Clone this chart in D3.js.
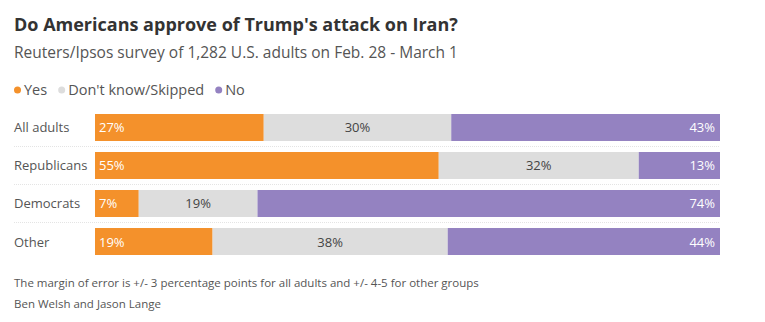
<!DOCTYPE html>
<html>
<head>
<meta charset="utf-8">
<script src="https://cdn.jsdelivr.net/npm/d3@7"></script>
<style>
  body { margin: 0; background: #fff; }
  svg { font-family: "Open Sans", "Noto Sans", sans-serif; }
</style>
</head>
<body>
<div id="chart"></div>
<script>
// survey groups and answer shares (%)
var groups = ["All adults", "Republicans", "Democrats", "Other"];
var answers = ["Yes", "Don't know/Skipped", "No"];
var yes = [27, 55, 7, 19];
var dontKnow = [30, 32, 19, 38];
var no = [43, 13, 74, 44];

var colors = ["#f4912b", "#dddddd", "#9482c1"];
var labelColors = ["#fff", "#444", "#fff"];

var width = 765, height = 322;
var margin = { left: 95, right: 45 };

var svg = d3.select("#chart").append("svg")
    .attr("width", width)
    .attr("height", height);

svg.append("text")
    .attr("x", 14).attr("y", 31)
    .style("font-size", "18px").style("font-weight", "700")
    .attr("fill", "#333")
    .text("Do Americans approve of Trump's attack on Iran?");

svg.append("text")
    .attr("x", 14).attr("y", 58)
    .style("font-size", "15.5px")
    .attr("fill", "#555")
    .text("Reuters/Ipsos survey of 1,282 U.S. adults on Feb. 28 - March 1");

// legend
var lx = 14;
answers.forEach(function(a, i) {
    svg.append("circle")
        .attr("cx", lx + 3.5).attr("cy", 90)
        .attr("r", 3.5)
        .attr("fill", colors[i]);
    var t = svg.append("text")
        .attr("x", lx + 10).attr("y", 95)
        .style("font-size", "14.5px")
        .attr("fill", "#555")
        .text(a);
    lx += 10 + t.node().getComputedTextLength() + 11;
});

var y = d3.scaleBand().domain(groups).range([114, 255]).paddingInner(0.29).paddingOuter(0);

// rounded shares don't always add to 100, so each row is scaled to its own total
var rows = groups.map(function(g, i) {
    return { group: g, values: [yes[i], dontKnow[i], no[i]] };
});

// separators between rows
groups.slice(1).forEach(function(g) {
    var yy = y(g) - (y.step() - y.bandwidth()) / 2;
    svg.append("line")
        .attr("x1", 14).attr("x2", width - margin.right)
        .attr("y1", yy).attr("y2", yy)
        .attr("stroke", "#e4e4e4")
        .attr("stroke-dasharray", "1,1");
});

var row = svg.selectAll("g.row")
    .data(rows)
    .enter().append("g")
    .attr("class", "row")
    .attr("transform", function(d) { return "translate(0," + y(d.group) + ")"; });

row.append("text")
    .attr("x", 14)
    .attr("y", y.bandwidth() / 2 + 5)
    .style("font-size", "13px")
    .attr("fill", "#555")
    .text(function(d) { return d.group; });

row.each(function(d) {
    var g = d3.select(this);
    var x = d3.scaleLinear()
        .domain([0, d3.sum(d.values)])
        .range([margin.left, width - margin.right]);
    var start = 0;
    d.values.forEach(function(v, i) {
        var x0 = x(start), x1 = x(start + v);
        g.append("rect")
            .attr("x", x0).attr("y", 0)
            .attr("width", x1 - x0)
            .attr("height", y.bandwidth())
            .attr("fill", colors[i]);
        var lbl = g.append("text")
            .attr("y", y.bandwidth() / 2 + 5)
            .style("font-size", "13px")
            .attr("fill", labelColors[i])
            .text(v + "%");
        if (i === 0) lbl.attr("x", x0 + 4);
        else if (i === 1) lbl.attr("x", (x0 + x1) / 2).attr("text-anchor", "middle");
        else lbl.attr("x", x1 - 5).attr("text-anchor", "end");
        start += v;
    });
});

svg.append("text")
    .attr("x", 14).attr("y", 287)
    .style("font-size", "11.5px")
    .attr("fill", "#555")
    .text("The margin of error is +/- 3 percentage points for all adults and +/- 4-5 for other groups");

svg.append("text")
    .attr("x", 14).attr("y", 308)
    .style("font-size", "11.5px")
    .attr("fill", "#555")
    .text("Ben Welsh and Jason Lange");
</script>
</body>
</html>
